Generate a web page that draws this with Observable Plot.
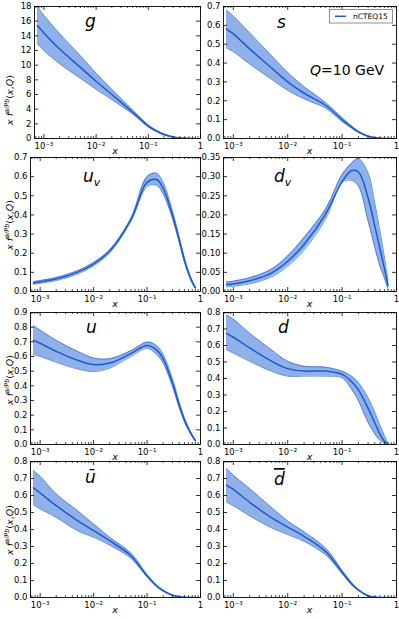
<!DOCTYPE html>
<html><head><meta charset="utf-8">
<script src="https://cdn.jsdelivr.net/npm/d3@7"></script>
<script src="https://cdn.jsdelivr.net/npm/@observablehq/plot@0.6"></script>
<style>
body{margin:0;background:#fff;}
#c{position:relative;width:399px;height:619px;overflow:hidden;font-family:"DejaVu Sans",sans-serif;}
</style></head><body><div id="c"></div>
<script>
// ---- data ----
const xs = [7.5e-4, 1e-3, 2e-3, 5e-3, 1e-2, 2e-2, 5e-2, 0.1, 0.15, 0.2, 0.3, 0.4, 0.5, 0.6, 0.7, 0.8];
const xDomain = [6.6e-4, 1];
const xTicks = [1e-3, 1e-2, 1e-1, 1];
const xTickLabels = ["10\u207B\u00B3", "10\u207B\u00B2", "10\u207B\u00B9", "1"];

const gC  = [15.4, 14.4, 12.2, 9.7, 7.8, 6.0, 3.6, 1.7, 0.95, 0.55, 0.2, 0.07, 0.02, 0.005, 0.001, 0];
const gHi = [18.0, 16.8, 14.3, 11.3, 8.9, 6.7, 3.9, 1.85, 1.05, 0.62, 0.23, 0.08, 0.025, 0.006, 0.001, 0];
const gLo = [12.9, 12.0, 10.2, 8.2, 6.7, 5.3, 3.35, 1.55, 0.85, 0.48, 0.17, 0.06, 0.015, 0.004, 0.001, 0];
const gTicks = [0, 2, 4, 6, 8, 10, 12, 14, 16, 18];

const sC  = [0.58, 0.555, 0.475, 0.375, 0.30, 0.24, 0.175, 0.10, 0.06, 0.035, 0.012, 0.004, 0.001, 0, 0, 0];
const sHi = [0.68, 0.65, 0.56, 0.44, 0.35, 0.275, 0.19, 0.11, 0.066, 0.039, 0.014, 0.005, 0.0015, 0, 0, 0];
const sLo = [0.48, 0.46, 0.395, 0.315, 0.255, 0.21, 0.16, 0.09, 0.054, 0.031, 0.01, 0.003, 0.0005, 0, 0, 0];
const sTicks = [0, 0.1, 0.2, 0.3, 0.4, 0.5, 0.6, 0.7];

const uvC  = [0.044, 0.05, 0.065, 0.10, 0.143, 0.21, 0.375, 0.57, 0.585, 0.54, 0.40, 0.27, 0.165, 0.095, 0.05, 0.02];
const uvHi = [0.051, 0.057, 0.073, 0.109, 0.152, 0.218, 0.383, 0.60, 0.618, 0.57, 0.42, 0.285, 0.177, 0.104, 0.057, 0.025];
const uvLo = [0.037, 0.043, 0.057, 0.091, 0.134, 0.202, 0.367, 0.548, 0.555, 0.51, 0.38, 0.255, 0.153, 0.086, 0.043, 0.015];
const uvTicks = [0, 0.1, 0.2, 0.3, 0.4, 0.5, 0.6, 0.7];

const dvC  = [0.018, 0.020, 0.028, 0.048, 0.079, 0.123, 0.203, 0.287, 0.316, 0.312, 0.245, 0.17, 0.11, 0.06, 0.015, null];
const dvHi = [0.025, 0.027, 0.036, 0.058, 0.093, 0.141, 0.216, 0.305, 0.335, 0.347, 0.31, 0.23, 0.155, 0.09, 0.025, null];
const dvLo = [0.012, 0.014, 0.020, 0.038, 0.066, 0.108, 0.19, 0.285, 0.29, 0.275, 0.185, 0.115, 0.065, 0.035, 0.005, null];
const dvTicks = [0, 0.05, 0.10, 0.15, 0.20, 0.25, 0.30, 0.35];

const uC  = [0.71, 0.69, 0.635, 0.575, 0.545, 0.555, 0.62, 0.675, 0.645, 0.585, 0.42, 0.27, 0.168, 0.105, 0.06, 0.027];
const uHi = [0.81, 0.78, 0.71, 0.635, 0.59, 0.585, 0.64, 0.698, 0.675, 0.615, 0.445, 0.29, 0.182, 0.115, 0.067, 0.032];
const uLo = [0.61, 0.60, 0.56, 0.515, 0.497, 0.52, 0.60, 0.655, 0.615, 0.555, 0.395, 0.25, 0.155, 0.095, 0.053, 0.022];
const uTicks = [0, 0.1, 0.2, 0.3, 0.4, 0.5, 0.6, 0.7, 0.8, 0.9];

const dC  = [0.674, 0.65, 0.585, 0.505, 0.46, 0.445, 0.445, 0.425, 0.38, 0.33, 0.22, 0.13, 0.06, 0.02, 0.0, null];
const dHi = [0.784, 0.76, 0.674, 0.574, 0.504, 0.474, 0.468, 0.444, 0.414, 0.374, 0.284, 0.194, 0.114, 0.054, 0.004, null];
const dLo = [0.574, 0.554, 0.504, 0.444, 0.414, 0.414, 0.414, 0.404, 0.334, 0.264, 0.134, 0.064, 0.024, 0.008, 0, null];
const dTicks = [0, 0.1, 0.2, 0.3, 0.4, 0.5, 0.6, 0.7, 0.8];

const ubC  = [0.645, 0.615, 0.54, 0.452, 0.393, 0.334, 0.246, 0.128, 0.069, 0.04, 0.013, 0.004, 0.001, 0, 0, 0];
const ubHi = [0.747, 0.713, 0.609, 0.511, 0.432, 0.354, 0.261, 0.136, 0.075, 0.044, 0.015, 0.005, 0.0015, 0, 0, 0];
const ubLo = [0.544, 0.521, 0.471, 0.393, 0.354, 0.308, 0.23, 0.12, 0.063, 0.036, 0.011, 0.003, 0.0005, 0, 0, 0];
const ubTicks = [0, 0.1, 0.2, 0.3, 0.4, 0.5, 0.6, 0.7, 0.8];

const dbC  = [0.66, 0.636, 0.56, 0.47, 0.414, 0.36, 0.27, 0.15, 0.08, 0.044, 0.01, 0.002, 0, 0, 0, 0];
const dbHi = [0.76, 0.72, 0.64, 0.53, 0.45, 0.386, 0.29, 0.16, 0.087, 0.048, 0.012, 0.003, 0, 0, 0, 0];
const dbLo = [0.56, 0.54, 0.48, 0.41, 0.37, 0.33, 0.25, 0.14, 0.073, 0.04, 0.008, 0.001, 0, 0, 0, 0];
const dbTicks = [0, 0.1, 0.2, 0.3, 0.4, 0.5, 0.6, 0.7, 0.8];

const legendLabel = "nCTEQ15";
const scaleLabel = "10 GeV";

// ---- layout ----
const colL = {l: 30, r: 200}, colR = {l: 223, r: 396};
const rows = [{t: 6, b: 138}, {t: 157, b: 291}, {t: 312, b: 444}, {t: 461, b: 597}];

const f1 = d3.format(".1f"), f2 = d3.format(".2f"), f0 = d3.format("d");
const panels = [
  {key: "g",  c: gC,  hi: gHi,  lo: gLo,  ticks: gTicks,  fmt: f0, col: {l: 34, r: 200}, row: rows[0]},
  {key: "s",  c: sC,  hi: sHi,  lo: sLo,  ticks: sTicks,  fmt: f1, col: colR, row: rows[0]},
  {key: "uv", c: uvC, hi: uvHi, lo: uvLo, ticks: uvTicks, fmt: f1, col: colL, row: rows[1]},
  {key: "dv", c: dvC, hi: dvHi, lo: dvLo, ticks: dvTicks, fmt: f2, col: colR, row: rows[1]},
  {key: "u",  c: uC,  hi: uHi,  lo: uLo,  ticks: uTicks,  fmt: f1, col: colL, row: rows[2]},
  {key: "d",  c: dC,  hi: dHi,  lo: dLo,  ticks: dTicks,  fmt: f1, col: colR, row: rows[2]},
  {key: "ub", c: ubC, hi: ubHi, lo: ubLo, ticks: ubTicks, fmt: f1, col: colL, row: rows[3]},
  {key: "db", c: dbC, hi: dbHi, lo: dbLo, ticks: dbTicks, fmt: f1, col: colR, row: rows[3]}
];

const xMinor = [];
for (let k = -4; k <= -1; k++) for (let m = 2; m <= 9; m++) {
  const v = m * Math.pow(10, k);
  if (v > xDomain[0] && v < xDomain[1]) xMinor.push(v);
}

const fillColor = "#8fb0e8", edgeColor = "#2b68d2", lineColor = "#1d5bd0";
const container = document.getElementById("c");

for (const p of panels) {
  const ML = 34, MR = 10, MT = 8, MB = 26;
  const innerW = p.col.r - p.col.l, innerH = p.row.b - p.row.t;
  const data = xs.map((x, i) => ({x, c: p.c[i], hi: p.hi[i], lo: p.lo[i]})).filter(d => d.c != null);
  const curve = "catmull-rom";
  const svg = Plot.plot({
    width: innerW + ML + MR, height: innerH + MT + MB,
    marginLeft: ML, marginRight: MR, marginTop: MT, marginBottom: MB,
    style: {background: "transparent", overflow: "visible", fontFamily: "DejaVu Sans", fontSize: "8.5px", color: "black"},
    x: {type: "log", domain: xDomain},
    y: {domain: [0, p.ticks[p.ticks.length - 1]]},
    marks: [
      Plot.areaY(data, {x: "x", y1: "lo", y2: "hi", fill: fillColor, curve, clip: true}),
      Plot.lineY(data, {x: "x", y: "lo", stroke: edgeColor, strokeWidth: 0.7, curve, clip: true}),
      Plot.lineY(data, {x: "x", y: "hi", stroke: edgeColor, strokeWidth: 0.7, curve, clip: true}),
      Plot.lineY(data, {x: "x", y: "c", stroke: lineColor, strokeWidth: 1.5, curve, clip: true}),
      Plot.tickX(xTicks, {x: d => d, insetTop: innerH - 4, stroke: "black", strokeWidth: 0.8}),
      Plot.tickX(xTicks, {x: d => d, insetBottom: innerH - 4, stroke: "black", strokeWidth: 0.8}),
      Plot.tickX(xMinor, {x: d => d, insetTop: innerH - 2, stroke: "black", strokeWidth: 0.7}),
      Plot.tickX(xMinor, {x: d => d, insetBottom: innerH - 2, stroke: "black", strokeWidth: 0.7}),
      Plot.tickY(p.ticks, {y: d => d, insetRight: innerW - 4, stroke: "black", strokeWidth: 0.8}),
      Plot.tickY(p.ticks, {y: d => d, insetLeft: innerW - 4, stroke: "black", strokeWidth: 0.8}),
      Plot.axisX(xTicks, {tickSize: 0, tickPadding: 4, tickFormat: d => xTickLabels[xTicks.indexOf(d)], label: null}),
      Plot.axisY(p.ticks, {tickSize: 0, tickPadding: 3, tickFormat: p.fmt, label: null}),
      Plot.frame({stroke: "black", strokeWidth: 0.9})
    ]
  });
  svg.style.position = "absolute";
  svg.style.left = (p.col.l - ML) + "px";
  svg.style.top = (p.row.t - MT) + "px";
  svg.style.maxWidth = "none";
  container.appendChild(svg);
}

// ---- overlay texts ----
const ov = d3.select(container).append("svg")
  .attr("width", 399).attr("height", 619)
  .style("position", "absolute").style("left", "0px").style("top", "0px")
  .style("pointer-events", "none")
  .style("font-family", "DejaVu Sans, sans-serif");

// panel titles
const titleSpecs = [
  {x: 85, y: 27, parts: [["g", 0]]},
  {x: 277, y: 28, parts: [["s", 0]]},
  {x: 83, y: 182, parts: [["u", 0], ["v", 1]]},
  {x: 274, y: 182, parts: [["d", 0], ["v", 1]]},
  {x: 86, y: 333, parts: [["u", 0]]},
  {x: 278, y: 333, parts: [["d", 0]]},
  {x: 85, y: 483, parts: [["\u016B", 0]]},
  {x: 274, y: 485, parts: [["d", 0]], overline: true}
];
for (const t of titleSpecs) {
  const tx = ov.append("text").attr("x", t.x).attr("y", t.y)
    .attr("font-size", 17).attr("font-style", "italic");
  if (t.overline) tx.style("text-decoration", "overline");
  for (const [s, kind] of t.parts) {
    const ts = tx.append("tspan").text(s);
    if (kind === 1) ts.attr("font-size", 11).attr("dy", 4);
  }
}

// x labels
for (const r of rows) {
  for (const c of [colL, colR]) {
    ov.append("text").attr("x", (c.l + c.r) / 2).attr("y", r.b + 16)
      .attr("text-anchor", "middle").attr("font-size", 9.5).attr("font-style", "italic").text("x");
  }
}

// y labels (left column)
const yLabelCenters = [100, 225, 380, 530];
for (const cy of yLabelCenters) {
  const t = ov.append("text").attr("transform", `translate(13,${cy}) rotate(-90)`)
    .attr("text-anchor", "middle").attr("font-size", 9.5);
  t.append("tspan").attr("font-style", "italic").text("x f");
  t.append("tspan").attr("font-style", "italic").attr("font-size", 6.5).attr("dy", -4).text("a/Pb");
  t.append("tspan").attr("dy", 4).text("(");
  t.append("tspan").attr("font-style", "italic").text("x");
  t.append("tspan").text(",");
  t.append("tspan").attr("font-style", "italic").text("Q");
  t.append("tspan").text(")");
}

// legend
ov.append("rect").attr("x", 329.5).attr("y", 9.5).attr("width", 63).attr("height", 13.5)
  .attr("fill", "white").attr("stroke", "#777").attr("stroke-width", 0.8);
ov.append("line").attr("x1", 335).attr("x2", 346).attr("y1", 16.3).attr("y2", 16.3)
  .attr("stroke", lineColor).attr("stroke-width", 1.5);
ov.append("text").attr("x", 353).attr("y", 19.2).attr("font-size", 7.5).text(legendLabel);

// Q label
const q = ov.append("text").attr("x", 310).attr("y", 75).attr("font-size", 14);
q.append("tspan").attr("font-style", "italic").text("Q");
q.append("tspan").text("=" + scaleLabel);
</script>
</body></html>
